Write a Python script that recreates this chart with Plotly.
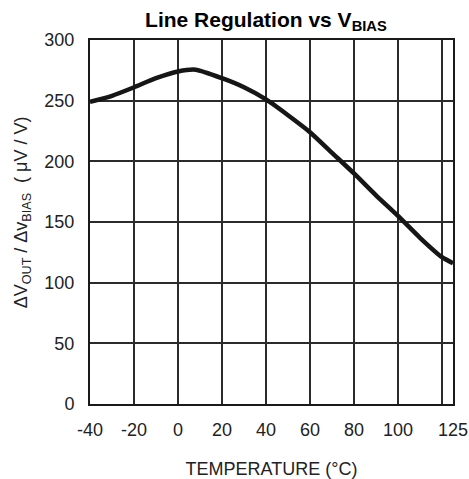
import plotly.graph_objects as go

temperature = [-40, -30, -20, -10, 0, 8, 20, 30, 40, 50, 60, 70, 80, 90, 100, 110, 120, 125]
line_reg = [249, 254, 261, 268.5, 274, 275.5, 268.5, 261, 251, 238, 224, 207, 190, 172, 155, 137, 121, 116]

x_ticks = [-40, -20, 0, 20, 40, 60, 80, 100, 125]
x_tick_labels = ["-40", "-20", "0", "20", "40", "60", "80", "100", "125"]
y_ticks = [0, 50, 100, 150, 200, 250, 300]

GRID = "#2b2b2b"
FONT = "Liberation Sans"
TXT = "#222222"

fig = go.Figure()
fig.add_trace(go.Scatter(
    x=temperature, y=line_reg, mode="lines",
    line=dict(color="#161616", width=4.5, shape="spline", smoothing=0.6),
    showlegend=False, hoverinfo="skip",
))

fig.update_layout(
    width=469, height=479,
    margin=dict(l=90, r=16, t=40, b=75, autoexpand=False),
    paper_bgcolor="white", plot_bgcolor="white",
    title=dict(text="<b>Line Regulation vs V<sub>BIAS</sub></b>", x=0.567, xanchor="center",
               y=0.96, yanchor="middle", font=dict(family=FONT, size=21, color="black")),
    xaxis=dict(
        range=[-40, 125], tickvals=x_ticks, ticktext=x_tick_labels,
        showgrid=True, gridcolor=GRID, gridwidth=1.5, zeroline=False,
        showline=True, linecolor="#1a1a1a", linewidth=2, mirror=True,
        ticks="", ticklabelstandoff=8, automargin=False,
        tickfont=dict(family=FONT, size=18, color=TXT),
        minor=dict(tickvals=[120], showgrid=True, gridcolor=GRID, gridwidth=1.5, ticks=""),
        title=dict(text="TEMPERATURE (°C)", standoff=24, font=dict(family=FONT, size=18, color=TXT)),
    ),
    yaxis=dict(
        range=[0, 300], tickvals=y_ticks,
        showgrid=True, gridcolor=GRID, gridwidth=1.5, zeroline=False,
        showline=True, linecolor="#1a1a1a", linewidth=2, mirror=True,
        ticks="", ticklabelstandoff=10, automargin=False,
        tickfont=dict(family=FONT, size=18, color=TXT),
    ),
    annotations=[dict(
        text="ΔV<sub>OUT</sub> / Δv<sub>BIAS</sub>  ( μV / V)",
        xref="paper", yref="paper", x=-0.187, y=0.527,
        xanchor="center", yanchor="middle", textangle=-90, showarrow=False,
        font=dict(family=FONT, size=18, color=TXT),
    )],
)

fig.write_html("out.html", config={"displayModeBar": False},
               post_script="document.body.style.margin='0';document.body.style.overflow='hidden';")
